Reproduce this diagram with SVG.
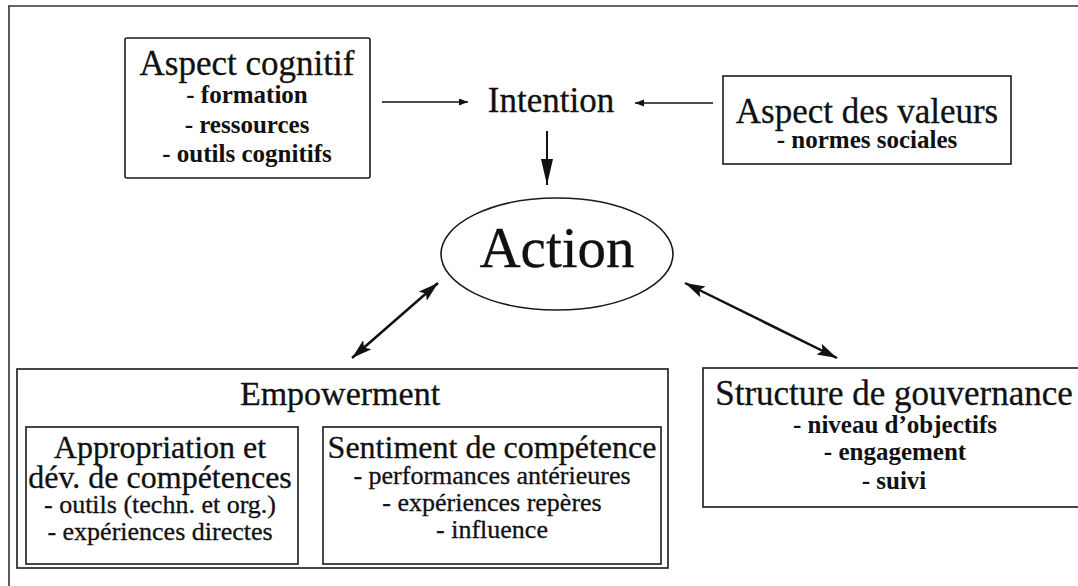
<svg xmlns="http://www.w3.org/2000/svg" width="1078" height="586" viewBox="0 0 1078 586">
<style>
.box{fill:#fff;stroke:#1a1a1a;stroke-width:1.6}
.frame{stroke:#333;stroke-width:1.6;fill:none}
.t{fill:#111;text-anchor:middle;stroke:#111;stroke-width:0.3}
.h{font-size:35px}
.sb{font-size:25px;font-weight:bold;stroke-width:0}
.s{font-size:26px}
.ln{stroke:#111;fill:none}
</style>
<defs>
<marker id="sm" markerUnits="userSpaceOnUse" markerWidth="10" markerHeight="8" refX="9" refY="3.5" orient="auto">
<path d="M0,0 L9,3.5 L0,7 z" fill="#111"/>
</marker>
<marker id="big" markerUnits="userSpaceOnUse" markerWidth="27" markerHeight="13" refX="26" refY="6" orient="auto">
<path d="M0,0 L26,6 L0,12 z" fill="#111"/>
</marker>
<marker id="dbl" markerUnits="userSpaceOnUse" markerWidth="21" markerHeight="13" refX="20" refY="6" orient="auto-start-reverse">
<path d="M0,0 L20,6 L0,12 L4,6 z" fill="#111"/>
</marker>
</defs>

<g id="frame">
<line class="frame" x1="8" y1="6" x2="1078" y2="6"/>
<line class="frame" x1="9" y1="6" x2="9" y2="586"/>
</g>

<g id="connectors">
<line class="ln" x1="382" y1="102" x2="468" y2="102" stroke-width="1.4" marker-end="url(#sm)"/>
<line class="ln" x1="713" y1="103" x2="635" y2="103" stroke-width="1.4" marker-end="url(#sm)"/>
<line class="ln" x1="547" y1="131" x2="547" y2="185" stroke-width="2" marker-end="url(#big)"/>
<line class="ln" x1="352" y1="358" x2="438" y2="283" stroke-width="2.5" marker-start="url(#dbl)" marker-end="url(#dbl)"/>
<line class="ln" x1="685" y1="283" x2="837" y2="358" stroke-width="2.5" marker-start="url(#dbl)" marker-end="url(#dbl)"/>
</g>

<g font-family="'Liberation Serif', 'DejaVu Serif', serif">
<g id="aspect-cognitif">
<rect class="box" x="125" y="38" width="245" height="140" rx="2"/>
<text class="t h" x="247" y="75">Aspect cognitif</text>
<text class="t sb" x="247" y="103">- formation</text>
<text class="t sb" x="247" y="133">- ressources</text>
<text class="t sb" x="247" y="162">- outils cognitifs</text>
</g>

<g id="intention">
<text class="t h" x="551" y="112">Intention</text>
</g>

<g id="aspect-valeurs">
<rect class="box" x="723" y="76" width="288" height="88"/>
<text class="t h" x="867" y="123">Aspect des valeurs</text>
<text class="t sb" x="867" y="148" font-size="24">- normes sociales</text>
</g>

<g id="action">
<ellipse cx="557" cy="254" rx="116" ry="56" fill="#fff" stroke="#1a1a1a" stroke-width="1.6"/>
<text class="t" x="557" y="267" font-size="57">Action</text>
</g>

<g id="empowerment">
<rect class="box" x="17" y="369" width="651" height="199"/>
<text class="t" x="340" y="405" font-size="34">Empowerment</text>
</g>

<g id="appropriation">
<rect class="box" x="26" y="427" width="272" height="137"/>
<text class="t" x="160" y="458" font-size="32">Appropriation et</text>
<text class="t" x="160" y="488" font-size="32">dév. de compétences</text>
<text class="t s" x="160" y="513">- outils (techn. et org.)</text>
<text class="t s" x="160" y="540">- expériences directes</text>
</g>

<g id="sentiment">
<rect class="box" x="323" y="427" width="338" height="137"/>
<text class="t" x="492" y="458" font-size="32">Sentiment de compétence</text>
<text class="t s" x="492" y="484">- performances antérieures</text>
<text class="t s" x="492" y="511">- expériences repères</text>
<text class="t s" x="492" y="538">- influence</text>
</g>

<g id="gouvernance">
<rect class="box" x="703" y="368" width="385" height="139"/>
<text class="t h" x="894" y="405">Structure de gouvernance</text>
<text class="t sb" x="895" y="433" font-size="24">- niveau d’objectifs</text>
<text class="t sb" x="895" y="460" font-size="24">- engagement</text>
<text class="t sb" x="894" y="489" font-size="24">- suivi</text>
</g>
</g>
</svg>
